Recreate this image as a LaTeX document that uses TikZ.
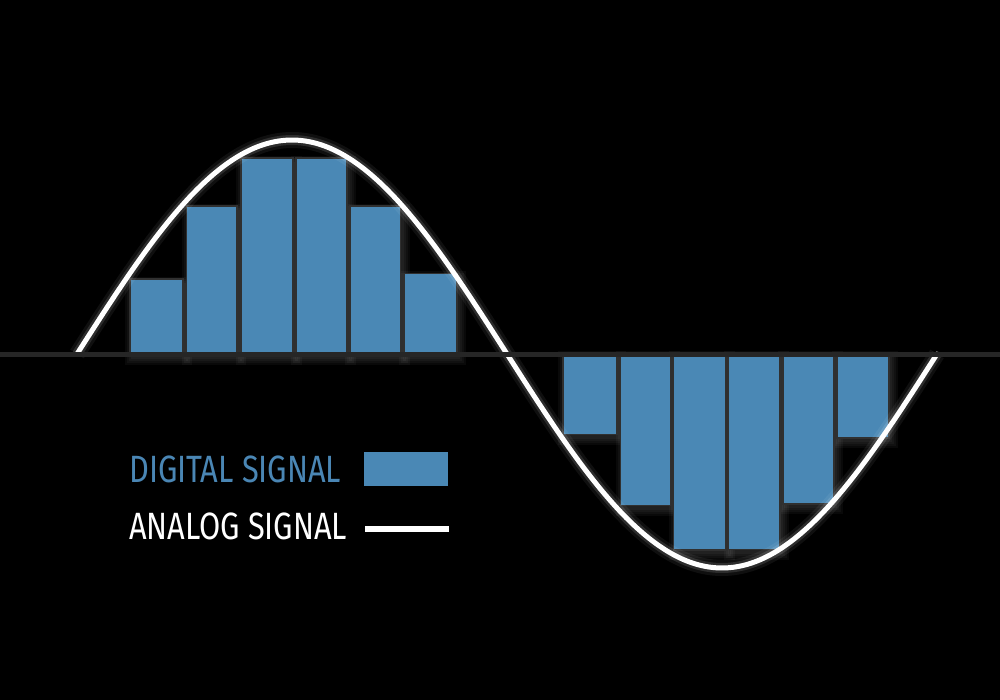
\documentclass[tikz,border=0pt]{standalone}
\usepackage{fontspec}
\usepackage{graphicx}
\newfontfamily\legendfont{Fira Sans}
\definecolor{barblue}{HTML}{4A88B5}
\definecolor{txtblue}{HTML}{4A86B4}
\definecolor{edgegray}{HTML}{303030}
\definecolor{axisgray}{HTML}{262626}
\tikzset{
  bar/.style={fill=barblue, draw=edgegray, line width=1.6pt, inner sep=0pt},
  shade1/.style={fill=white, fill opacity=0.035, draw=none},
  legendtxt/.style={anchor=base west, inner sep=0pt, font=\legendfont\fontsize{38}{40}\selectfont},
  analog/.style={white, line width=5pt, line cap=round},
}
\newcommand\barshadow[4]{% x1 y1 x2 y2 (y1<y2)
  \foreach \g in {1,3,5,7}
    \fill[shade1] ({#1+3-\g},{#2+4-\g}) rectangle ({#3+3+\g},{#4+4+\g});
}
\begin{document}
\begin{tikzpicture}[x=1pt, y=-1pt]
\fill[black] (0,0) rectangle (1000,700);
\useasboundingbox (0,0) rectangle (1000,700);
% shadows
\foreach \a/\b/\t in {129/182/280, 185.5/236/207, 240/292/159, 295/346/159, 349/399.5/207, 403/456/274.5}
  {\barshadow{\a}{\t}{\b}{354}}
\foreach \a/\b/\t in {562/616/433.5, 619.5/669.5/504.5, 672.5/724.5/549, 727.5/779/548.5, 782/833/503, 836/888/437}
  {\barshadow{\a}{354}{\b}{\t}}
% positive bars
\foreach \a/\b/\t [count=\i] in {129/182/280, 185.5/236/207, 240/292/159, 295/346/159, 349/399.5/207, 403/456/274.5}
  \node[bar, minimum width={(\b-\a)*1pt}, minimum height={(354-\t)*1pt}, anchor=south west] (p\i) at (\a,354) {};
% negative bars
\foreach \a/\b/\t [count=\i] in {562/616/433.5, 619.5/669.5/504.5, 672.5/724.5/549, 727.5/779/548.5, 782/833/503, 836/888/437}
  \node[bar, minimum width={(\b-\a)*1pt}, minimum height={(\t-354)*1pt}, anchor=north west] (n\i) at (\a,354) {};
% analog curve glow
\draw[white, opacity=0.06, line width=16pt] plot[smooth, samples=200, domain=77:937] (\x, {354-214*sin((\x-77)/430*180)});
\draw[white, opacity=0.12, line width=10pt] plot[smooth, samples=200, domain=77:937] (\x, {354-214*sin((\x-77)/430*180)});
\draw[analog] plot[smooth, samples=200, domain=77:937] (\x, {354-214*sin((\x-77)/430*180)});
% axis
\coordinate (axl) at (0,354);
\coordinate (axr) at (1000,354);
\draw[axisgray, line width=5pt] (axl) -- (axr);
% legend
\node[legendtxt, text=txtblue] (dlabel) at (129,482.5) {\resizebox{212pt}{\height}{DIGITAL SIGNAL}};
\node[legendtxt, text=white] (alabel) at (129,539) {\resizebox{218pt}{\height}{ANALOG SIGNAL}};
\node[fill=barblue, inner sep=0pt, minimum width=84pt, minimum height=33.5pt, anchor=north west] (dkey) at (364,452) {};
\coordinate (akeyl) at (365,529);
\coordinate (akeyr) at (449,529);
\draw[white, line width=5.5pt] (akeyl) -- (akeyr);
\end{tikzpicture}
\end{document}
